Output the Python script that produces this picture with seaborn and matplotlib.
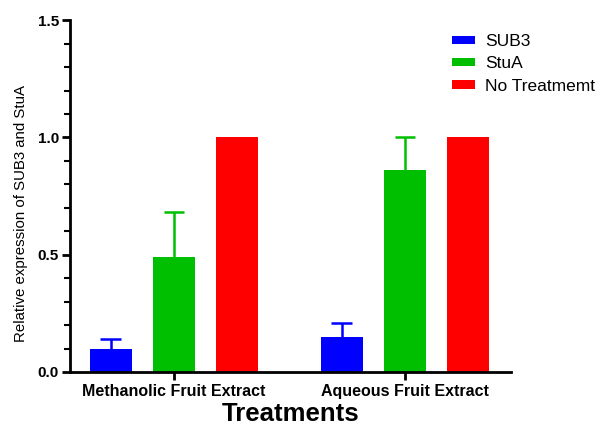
import pandas as pd
import seaborn as sns
import matplotlib.pyplot as plt
from matplotlib.ticker import MultipleLocator

# Values
treatments = ['Methanolic Fruit Extract', 'Aqueous Fruit Extract']
genes = ['SUB3', 'StuA', 'No Treatmemt']
sub3_mean = [0.10, 0.15]
sub3_err = [0.04, 0.06]
stua_mean = [0.49, 0.86]
stua_err = [0.19, 0.14]
notreat_mean = [1.0, 1.0]
notreat_err = [0.0, 0.0]

colors = ['#0000ff', '#00bf00', '#ff0000']

rows = []
for gene, means, errs in zip(genes, [sub3_mean, stua_mean, notreat_mean],
                             [sub3_err, stua_err, notreat_err]):
    for t, m, e in zip(treatments, means, errs):
        rows.append({'Treatment': t, 'Gene': gene, 'value': m, 'err': e})
df = pd.DataFrame(rows)

plt.rcParams['font.family'] = ['Liberation Sans', 'DejaVu Sans']

fig = plt.figure(figsize=(5.98, 4.3), dpi=100)
ax = fig.add_axes([0.117, 0.135, 0.738, 0.818])

sns.barplot(data=df, x='Treatment', y='value', hue='Gene', order=treatments,
            hue_order=genes, palette=colors, width=0.82, gap=0.34,
            errorbar=None, saturation=1, ax=ax, legend=True)

# Upper error bars (stem + cap), one per bar, on the bars seaborn drew
for cont, gene, col in zip(ax.containers, genes, colors):
    sub = df[df['Gene'] == gene].set_index('Treatment').loc[treatments]
    for patch, (_, r) in zip(cont.patches, sub.iterrows()):
        if r['err'] > 0:
            xc = patch.get_x() + patch.get_width() / 2
            half = patch.get_width() * 0.25
            top = r['value'] + r['err']
            ax.vlines(xc, r['value'], top, color=col, lw=1.8)
            ax.hlines(top, xc - half, xc + half, color=col, lw=1.8)

ax.set_ylim(0, 1.5)
ax.set_xlim(-0.45, 1.46)
ax.yaxis.set_major_locator(MultipleLocator(0.5))
ax.yaxis.set_minor_locator(MultipleLocator(0.1))
ax.yaxis.set_major_formatter(plt.FormatStrFormatter('%.1f'))

for s in ['top', 'right']:
    ax.spines[s].set_visible(False)
for s in ['left', 'bottom']:
    ax.spines[s].set_linewidth(2)
ax.tick_params(axis='both', which='major', length=6, width=2)
ax.tick_params(axis='x', labelsize=11.5, pad=3)
ax.tick_params(axis='y', labelsize=11, pad=2)
ax.tick_params(axis='y', which='minor', length=4, width=1.5)
for lbl in ax.get_xticklabels() + ax.get_yticklabels():
    lbl.set_fontweight('bold')

ax.set_xlabel('Treatments', fontsize=18.5, fontweight='bold', labelpad=2)
ax.set_ylabel('Relative expression of SUB3 and StuA', fontsize=10.8)
ax.yaxis.set_label_coords(-0.095, 0.45)

handles, labels = ax.get_legend_handles_labels()
ax.legend(handles, labels, loc='upper left', bbox_to_anchor=(0.745, 0.937),
          bbox_transform=fig.transFigure, frameon=False, fontsize=12.5,
          handlelength=1.27, handleheight=0.37, handletextpad=0.6,
          labelspacing=0.42, borderaxespad=0)

fig.savefig('out.png', dpi=100)
